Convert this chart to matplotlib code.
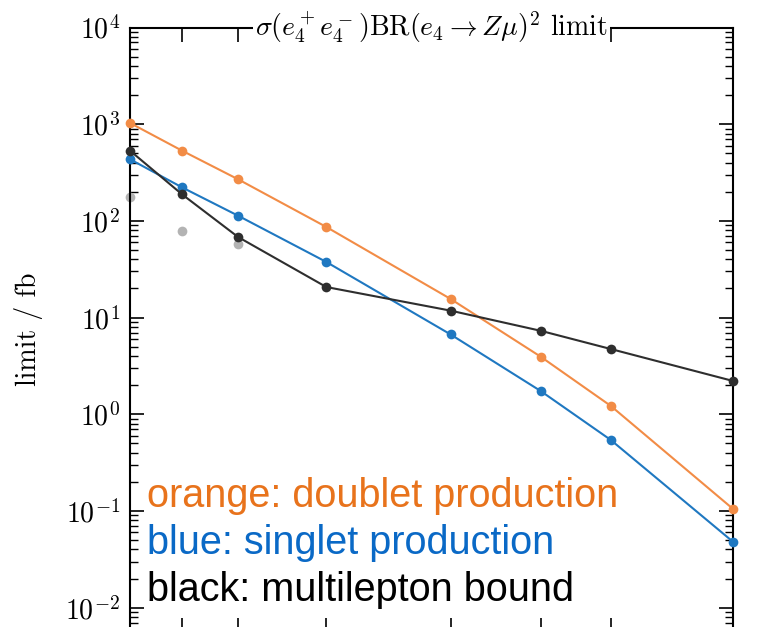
import numpy as np
import matplotlib
matplotlib.use("Agg")
import matplotlib.pyplot as plt
from matplotlib.ticker import LogLocator, NullFormatter, FixedLocator

plt.rcParams["font.family"] = "serif"
plt.rcParams["font.serif"] = ["cmr10"]
plt.rcParams["mathtext.fontset"] = "cm"
plt.rcParams["axes.formatter.use_mathtext"] = True

# e4 mass points (GeV)
mass = [100, 126, 154, 198, 260, 305, 340, 401]

# cross-section x BR^2 limits (fb)
doublet = [1030, 532, 269, 86.5, 15.6, 3.94, 1.22, 0.105]
singlet = [434, 222, 113, 37.6, 6.7, 1.74, 0.542, 0.048]
multilepton = [532, 188, 68, 20.7, 11.8, 7.3, 4.73, 2.21]

# older multilepton points
mass_old = [100, 126, 154]
multilepton_old = [178, 78.6, 57.7]

# y-axis decades that carry labels
y_decades = [1e-2, 1e-1, 1e0, 1e1, 1e2, 1e3, 1e4]

c_orange = "#F28C46"
c_blue = "#1F78C1"
c_black = "#2E2E2E"

fig = plt.figure(figsize=(7.61, 6.27), dpi=100)
ax = fig.add_axes([130 / 761, -5 / 627, 603 / 761, 1 - 22.5 / 627])

ax.plot(mass_old, multilepton_old, "o", color="#B3B3B3", ms=7, mew=0,
        clip_on=False, zorder=2)
ax.plot(mass, doublet, "-o", color=c_orange, lw=1.5, ms=7, mew=0,
        clip_on=False, zorder=3)
ax.plot(mass, singlet, "-o", color=c_blue, lw=1.5, ms=7, mew=0,
        clip_on=False, zorder=3)
ax.plot(mass, multilepton, "-o", color=c_black, lw=1.5, ms=7, mew=0,
        clip_on=False, zorder=3)

ax.set_yscale("log")
ax.set_xlim(mass[0], mass[-1])
ax.set_ylim(5.6e-3, 1e4)
ax.set_xticks(mass)

ax.yaxis.set_major_locator(FixedLocator(y_decades))
ax.yaxis.set_minor_locator(LogLocator(base=10, subs=np.arange(2, 10), numticks=100))
ax.yaxis.set_minor_formatter(NullFormatter())

ax.tick_params(axis="both", which="major", direction="in", top=True, right=True,
               length=10, width=1.2, labelsize=20, pad=7)
ax.tick_params(axis="both", which="minor", direction="in", top=True, right=True,
               length=6, width=1.0)
ax.tick_params(axis="x", labelbottom=False)
for s in ax.spines.values():
    s.set_linewidth(1.5)

ax.set_ylabel("limit / fb", fontsize=20)
ax.yaxis.set_label_coords(-0.145, 0.5)

ax.text(0.5, 1.0, r"$\sigma(e_4^+e_4^-)\mathrm{BR}(e_4\to Z\mu)^2$ limit",
        transform=ax.transAxes, ha="center", va="center", fontsize=20,
        bbox=dict(facecolor="white", edgecolor="none", pad=1.5), zorder=10)

legend_lines = [
    ("orange: doublet production", "#E8731C"),
    ("blue: singlet production", "#0A69C6"),
    ("black: multilepton bound", "black"),
]
for i, (txt, col) in enumerate(legend_lines):
    fig.text(147 / 761, 1 - (507 + 47 * i) / 627, txt, color=col,
             fontsize=28.5, family="Liberation Sans", ha="left", va="baseline")

fig.savefig("out.png", dpi=100)
